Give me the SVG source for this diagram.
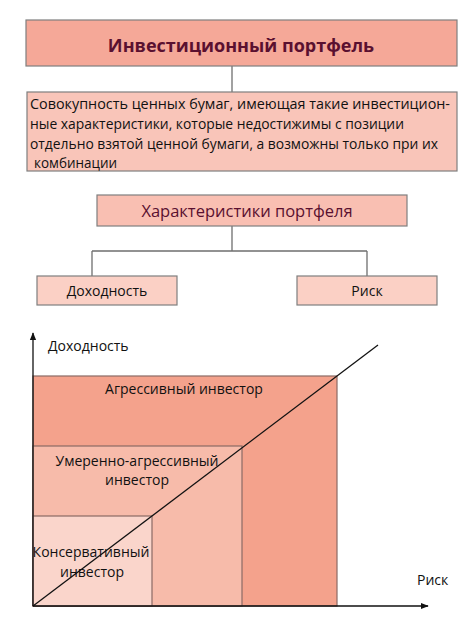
<svg xmlns="http://www.w3.org/2000/svg" width="474" height="632" viewBox="0 0 474 632">
<defs>
<style>
.box{stroke:#7f7f7f;stroke-width:1.2}
.t{font-family:"Open Sans","Liberation Sans",sans-serif;fill:#111}
.m{fill:#5a1030}
.ln{stroke:#6f6f6f;stroke-width:1.3;fill:none}
.ax{stroke:#111;stroke-width:1.3;fill:none}
.cr{stroke:#8a6a64;stroke-width:1.2}
</style>
<marker id="arr" viewBox="0 0 10 10" refX="9" refY="5" markerWidth="6" markerHeight="6" orient="auto-start-reverse">
<path d="M0,1 L10,5 L0,9 z" fill="#111"/>
</marker>
</defs>
<rect width="474" height="632" fill="#fff"/>
<g id="connectors">
<line class="ln" x1="232" y1="66" x2="232" y2="92"/>
<path class="ln" d="M232,226 V251 M92,251 H367 M92,251 V276 M367,251 V276"/>
</g>
<g id="portfolio">
<rect class="box" x="26" y="20" width="431" height="46" fill="#f5a898"/>
<text class="t m" x="241" y="52" font-size="18" font-weight="bold" text-anchor="middle">Инвестиционный портфель</text>
</g>
<g id="definition">
<rect class="box" x="27" y="92" width="430" height="79" fill="#f9c5b9"/>
<text class="t" font-size="14.5">
<tspan x="30" y="109" textLength="420" lengthAdjust="spacingAndGlyphs">Совокупность ценных бумаг, имеющая такие инвестицион-</tspan>
<tspan x="30" y="129" textLength="374" lengthAdjust="spacingAndGlyphs">ные характеристики, которые недостижимы с позиции</tspan>
<tspan x="30" y="148.5" textLength="408" lengthAdjust="spacingAndGlyphs">отдельно взятой ценной бумаги, а возможны только при их</tspan>
<tspan x="34" y="167.5" textLength="83" lengthAdjust="spacingAndGlyphs">комбинации</tspan>
</text>
</g>
<g id="characteristics">
<rect class="box" x="97" y="195" width="310" height="31" fill="#f9bfb2"/>
<text class="t m" x="247" y="217" font-size="16.5" text-anchor="middle">Характеристики портфеля</text>
</g>
<g id="return">
<rect class="box" x="37" y="276" width="140" height="29" fill="#fbd0c5"/>
<text class="t" x="107" y="296" font-size="14" text-anchor="middle">Доходность</text>
</g>
<g id="risk">
<rect class="box" x="297" y="276" width="140" height="29" fill="#fbd0c5"/>
<text class="t" x="367" y="296" font-size="14" text-anchor="middle">Риск</text>
</g>
<g id="chart">
<rect class="cr" x="33" y="376" width="304" height="230" fill="#f4a28c"/>
<rect class="cr" x="33" y="446" width="209" height="160" fill="#f7bbaa"/>
<rect class="cr" x="33" y="516" width="119" height="90" fill="#fad5cb"/>
<text class="t" x="184" y="394" font-size="14" text-anchor="middle">Агрессивный инвестор</text>
<text class="t" x="137" y="466" font-size="14" text-anchor="middle">Умеренно-агрессивный</text>
<text class="t" x="137" y="485" font-size="14" text-anchor="middle">инвестор</text>
<text class="t" x="91" y="557" font-size="14" text-anchor="middle">Консервативный</text>
<text class="t" x="92" y="577" font-size="14" text-anchor="middle">инвестор</text>
<line class="ax" x1="33" y1="606" x2="378" y2="345"/>
<line class="ax" x1="33" y1="606" x2="33" y2="333" marker-end="url(#arr)"/>
<line class="ax" x1="33" y1="606" x2="428" y2="606" marker-end="url(#arr)"/>
<text class="t" x="48" y="351" font-size="14">Доходность</text>
<text class="t" x="417" y="585" font-size="14">Риск</text>
</g>
</svg>
